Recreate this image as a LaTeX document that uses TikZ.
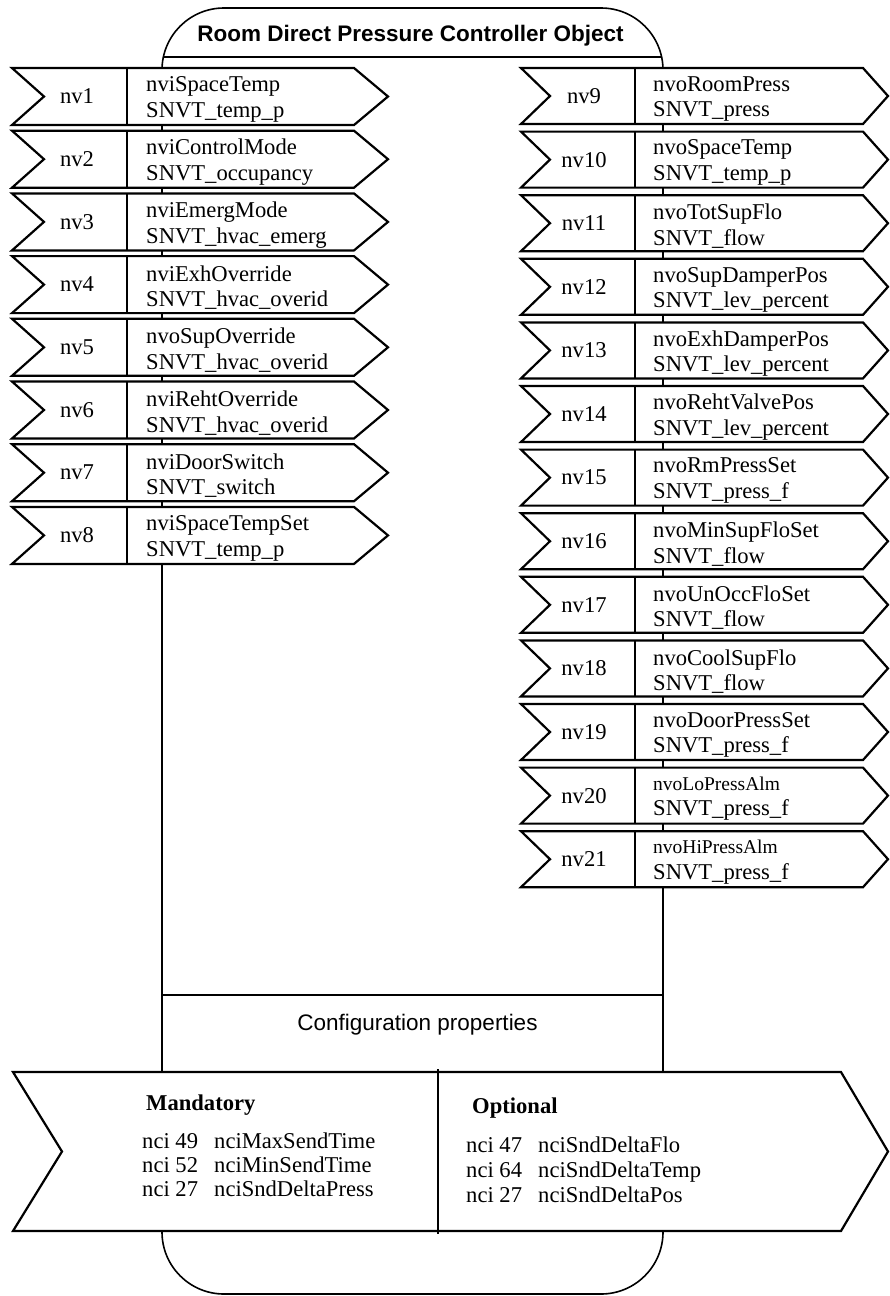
\documentclass[tikz,border=0pt]{standalone}
\usepackage{fontspec}
\setmainfont{Liberation Serif}
\setsansfont{Liberation Sans}
\newcommand\smallvar[1]{{\fontsize{19.5}{22}\selectfont #1}}
\tikzset{
  nvbox/.style={draw, line width=2.2pt, fill=white, line join=miter},
  thinline/.style={line width=1.6pt},
  lbl/.style={inner sep=0pt, font=\fontsize{22.6}{25.5}\selectfont},
  var/.style={lbl, anchor=west, align=left},
}
\begin{document}
\begin{tikzpicture}[x=1pt, y=-1pt]
  \useasboundingbox (0,0) rectangle (890,1296);

  % オブジェクトの枠
  \draw[thinline, rounded corners=62pt] (162,8) rectangle (663,1294);
  \draw[thinline] (163.4,57) -- (661.6,57);
  \node[lbl, font=\sffamily\bfseries\fontsize{22.5}{26}\selectfont, anchor=base] (title) at (410.5,41.5) {Room Direct Pressure Controller Object};

  % 入力 nv1--nv8
  \foreach \nvname/\nvtype [count=\k] in {nviSpaceTemp/SNVT\_temp\_p, nviControlMode/SNVT\_occupancy,
      nviEmergMode/SNVT\_hvac\_emerg, nviExhOverride/SNVT\_hvac\_overid, nvoSupOverride/SNVT\_hvac\_overid,
      nviRehtOverride/SNVT\_hvac\_overid, nviDoorSwitch/SNVT\_switch, nviSpaceTempSet/SNVT\_temp\_p} {
    \pgfmathsetmacro\t{68+62.7*(\k-1)}
    \draw[nvbox] (12,\t) -- (354,\t) -- (388,\t+28.5) -- (354,\t+57) -- (12,\t+57) -- (44,\t+28.5) -- cycle;
    \draw[thinline] (127,\t) -- (127,\t+57);
    \node[lbl] (nv\k) at (77,\t+28.5) {nv\k};
    \node[var] (in\k) at (146,\t+31.5) {\nvname\\\nvtype};
  }

  % 出力 nv9--nv21
  \foreach \nvname/\nvtype [count=\k from 9] in {nvoRoomPress/SNVT\_press, nvoSpaceTemp/SNVT\_temp\_p,
      nvoTotSupFlo/SNVT\_flow, nvoSupDamperPos/SNVT\_lev\_percent, nvoExhDamperPos/SNVT\_lev\_percent,
      nvoRehtValvePos/SNVT\_lev\_percent, nvoRmPressSet/SNVT\_press\_f, nvoMinSupFloSet/SNVT\_flow,
      nvoUnOccFloSet/SNVT\_flow, nvoCoolSupFlo/SNVT\_flow, nvoDoorPressSet/SNVT\_press\_f,
      \smallvar{nvoLoPressAlm}/SNVT\_press\_f, \smallvar{nvoHiPressAlm}/SNVT\_press\_f} {
    \pgfmathsetmacro\t{68+63.6*(\k-9)}
    \draw[nvbox] (521,\t) -- (863,\t) -- (888,\t+28) -- (863,\t+56) -- (521,\t+56) -- (550,\t+28) -- cycle;
    \draw[thinline] (635,\t) -- (635,\t+56);
    \node[lbl] (nv\k) at (584,\t+28) {nv\k};
    \node[var] (out\k) at (653,\t+31) {\nvname\\\nvtype};
  }

  % 構成プロパティ
  \draw[line width=1.3pt] (162,995) -- (663,995);
  \node[lbl, font=\sffamily\fontsize{22.5}{26}\selectfont, anchor=base] (cfg) at (417.5,1030) {Configuration properties};

  % 下の矢印
  \draw[nvbox] (13,1072) -- (841,1072) -- (888,1151.5) -- (841,1231) -- (13,1231) -- (62,1151.5) -- cycle;
  \draw[thinline] (438,1069) -- (438,1234);
  \node[lbl, font=\bfseries\fontsize{22.6}{25.5}\selectfont, anchor=base west] (mand) at (146,1110) {Mandatory};
  \foreach \n/\nciname/\y [count=\k] in {49/nciMaxSendTime/1148, 52/nciMinSendTime/1172, 27/nciSndDeltaPress/1196} {
    \node[lbl, anchor=base west] (mn\k) at (142,\y) {nci \n};
    \node[lbl, anchor=base west] (mv\k) at (214,\y) {\nciname};
  }
  \node[lbl, font=\bfseries\fontsize{22.6}{25.5}\selectfont, anchor=base west] (opt) at (472,1113) {Optional};
  \foreach \n/\nciname/\y [count=\k] in {47/nciSndDeltaFlo/1152, 64/nciSndDeltaTemp/1177, 27/nciSndDeltaPos/1202} {
    \node[lbl, anchor=base west] (on\k) at (466,\y) {nci \n};
    \node[lbl, anchor=base west] (ov\k) at (538,\y) {\nciname};
  }
\end{tikzpicture}
\end{document}
